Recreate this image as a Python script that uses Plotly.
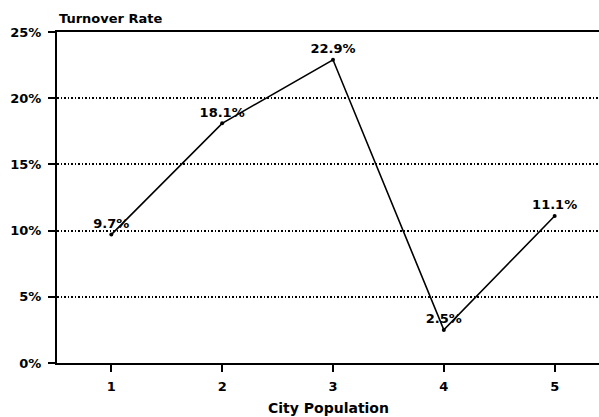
import plotly.graph_objects as go

categories = [1, 2, 3, 4, 5]
turnover = [9.7, 18.1, 22.9, 2.5, 11.1]
labels = ["9.7%", "18.1%", "22.9%", "2.5%", "11.1%"]
y_ticks = [0, 5, 10, 15, 20, 25]
y_tick_text = ["0%", "5%", "10%", "15%", "20%", "25%"]

font_family = "DejaVu Sans, Verdana, sans-serif"
bold = dict(family=font_family, size=13, color="black", weight="bold")

fig = go.Figure()
fig.add_trace(go.Scatter(
    x=categories, y=turnover, mode="lines+markers+text",
    text=labels, textposition="top center",
    textfont=bold,
    line=dict(color="black", width=1.6),
    marker=dict(color="black", size=4),
    cliponaxis=False, showlegend=False,
))

fig.update_layout(
    width=599, height=417,
    margin=dict(l=57, r=0, t=32, b=54),
    paper_bgcolor="white", plot_bgcolor="white",
    font=bold,
    annotations=[
        dict(text="Turnover Rate", xref="paper", yref="paper", x=0, y=1,
             xanchor="left", yanchor="bottom", yshift=4, showarrow=False,
             font=bold),
        dict(text="City Population", xref="paper", yref="paper", x=0.5, y=0,
             xanchor="center", yanchor="bottom", yshift=-54, borderpad=0,
             showarrow=False,
             font=dict(family=font_family, size=14, color="black", weight="bold")),
    ],
)
fig.update_xaxes(
    range=[0.51, 5.4], tickvals=categories, ticktext=[str(c) for c in categories],
    showgrid=False, zeroline=False, showline=True, linecolor="black", linewidth=2,
    mirror=True, ticks="outside", ticklen=7, tickwidth=1.5, tickcolor="black",
    ticklabelstandoff=3,
    tickfont=bold,
)
fig.update_yaxes(
    range=[0, 25], tickvals=y_ticks, ticktext=y_tick_text,
    showgrid=True, gridcolor="black", gridwidth=1.5, griddash="1.5px,2px",
    zeroline=False, showline=True, linecolor="black", linewidth=2,
    ticks="outside", ticklen=7, tickwidth=1.5, tickcolor="black",
    ticklabelstandoff=4,
    tickfont=bold,
)

fig.write_html("out.html", config={"displayModeBar": False},
               post_script="document.body.style.margin='0';document.body.style.overflow='hidden';")
